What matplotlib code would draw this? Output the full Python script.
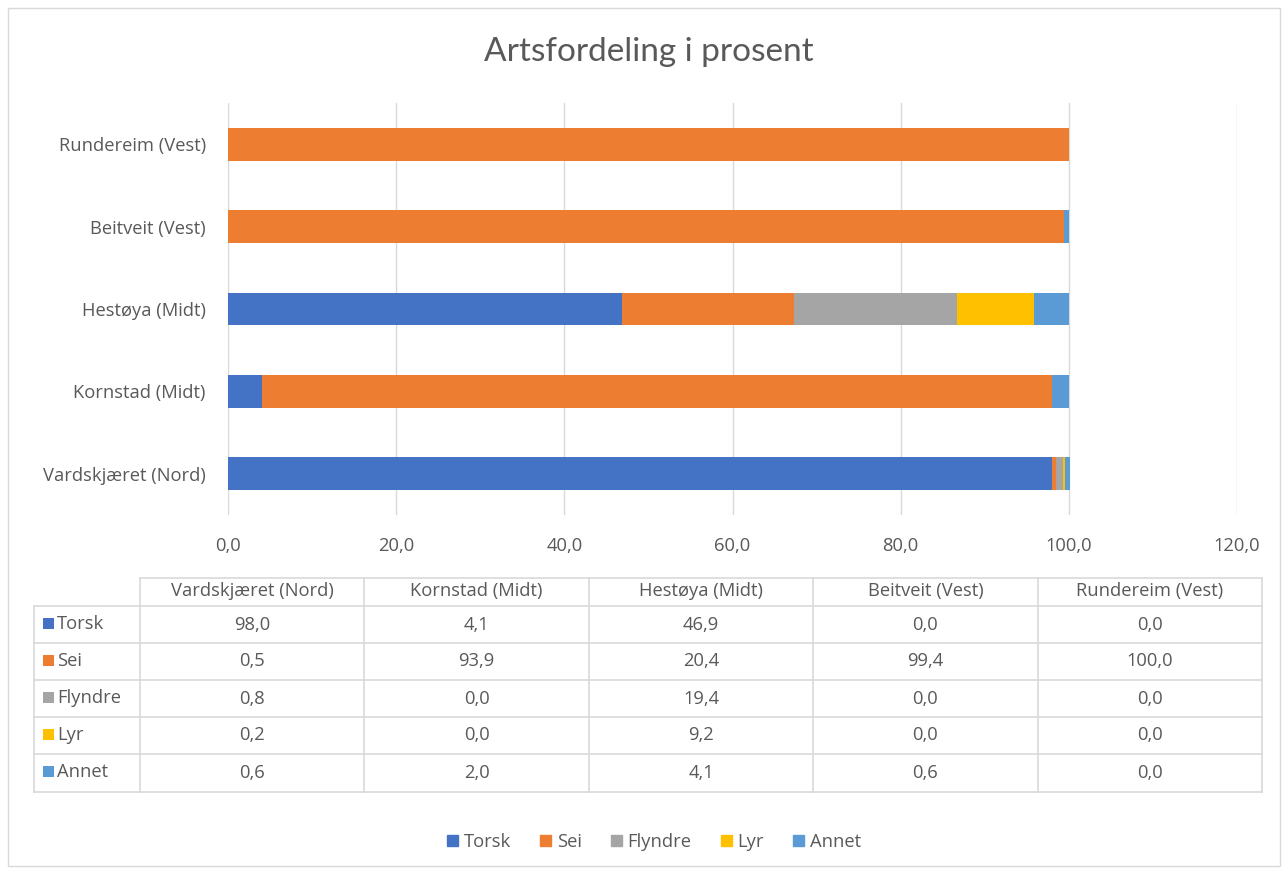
import matplotlib
matplotlib.use("Agg")
import matplotlib.pyplot as plt
from matplotlib.patches import Rectangle
from matplotlib.lines import Line2D

sites = ["Vardskjæret (Nord)", "Kornstad (Midt)", "Hestøya (Midt)", "Beitveit (Vest)", "Rundereim (Vest)"]
species = ["Torsk", "Sei", "Flyndre", "Lyr", "Annet"]
torsk = [98.0, 4.1, 46.9, 0.0, 0.0]
sei = [0.5, 93.9, 20.4, 99.4, 100.0]
flyndre = [0.8, 0.0, 19.4, 0.0, 0.0]
lyr = [0.2, 0.0, 9.2, 0.0, 0.0]
annet = [0.6, 2.0, 4.1, 0.6, 0.0]
xticks = [0, 20, 40, 60, 80, 100, 120]
colors = ["#4472C4", "#ED7D31", "#A5A5A5", "#FFC000", "#5B9BD5"]
series = [torsk, sei, flyndre, lyr, annet]

W, H = 1288, 872
FONT = ["Open Sans", "DejaVu Sans"]
TXT = "#595959"
GRID = "#d9d9d9"
FS = 13.2
plt.rcParams['font.family'] = FONT

fig = plt.figure(figsize=(W / 100, H / 100), dpi=100)

def fx(px):
    return px / W

def fy(py):
    return 1 - py / H

# outer frame
fig.patches.append(Rectangle((fx(8), fy(866)), fx(1280 - 8), (866 - 8) / H,
                             transform=fig.transFigure, fill=False, edgecolor="#d9d9d9", lw=1))

fig.text(fx(649), fy(52), "Artsfordeling i prosent", ha="center", va="center",
         fontsize=24, color=TXT, family=["Lato", "DejaVu Sans"])

# bar axes
x0, x1, y0, y1 = 228, 1237, 103, 515
ax = fig.add_axes([fx(x0), fy(y1), fx(x1 - x0), (y1 - y0) / H])
left = [0.0] * len(sites)
ypos = list(range(len(sites)))
for vals, c, name in zip(series, colors, species):
    ax.barh(ypos, vals, left=left, height=0.4, color=c, label=name, zorder=3)
    left = [l + v for l, v in zip(left, vals)]
ax.set_xlim(0, 120)
ax.set_ylim(-0.5, len(sites) - 0.5)
ax.set_xticks(xticks)
ax.set_xticklabels([f"{t:.1f}".replace(".", ",") for t in xticks])
ax.set_yticks(ypos)
ax.set_yticklabels(sites)
ax.tick_params(length=0, labelsize=FS, colors=TXT)
ax.tick_params(axis="x", pad=16)
ax.tick_params(axis="y", pad=16)
for s in ax.spines.values():
    s.set_visible(False)
ax.grid(axis="x", color=GRID, lw=1, zorder=0)
ax.set_facecolor("none")

# data table
tl, tc0, tr = 34, 140, 1262
ncol = len(sites)
colw = (tr - tc0) / ncol
ty = [578, 606, 643, 680, 717, 754, 792]

def hline(y, xa, xb):
    fig.lines.append(Line2D([fx(xa), fx(xb)], [fy(y), fy(y)], transform=fig.transFigure, color=GRID, lw=1.2))

def vline(x, ya, yb):
    fig.lines.append(Line2D([fx(x), fx(x)], [fy(ya), fy(yb)], transform=fig.transFigure, color=GRID, lw=1.2))

hline(ty[0], tc0, tr)
for y in ty[1:]:
    hline(y, tl, tr)
vline(tl, ty[1], ty[-1])
for i in range(ncol + 1):
    vline(tc0 + i * colw, ty[0], ty[-1])

for i, s in enumerate(sites):
    fig.text(fx(tc0 + (i + 0.5) * colw), fy((ty[0] + ty[1]) / 2 - 1), s, ha="center", va="center",
             fontsize=FS, color=TXT)

for r, (name, vals, c) in enumerate(zip(species, series, colors)):
    top = ty[r + 1]
    yc = (ty[r + 1] + ty[r + 2]) / 2
    base = top + 23
    fig.patches.append(Rectangle((fx(43), fy(base)), fx(11), 11 / H, transform=fig.transFigure,
                                 color=c, lw=0))
    fig.text(fx(57), fy(base), name, ha="left", va="baseline", fontsize=FS, color=TXT)
    for i, v in enumerate(vals):
        fig.text(fx(tc0 + (i + 0.5) * colw), fy(yc), f"{v:.1f}".replace(".", ","),
                 ha="center", va="center", fontsize=FS, color=TXT)

# legend
handles = [Rectangle((0, 0), 1, 1, color=c) for c in colors]
fig.legend(handles, species, loc="center", bbox_to_anchor=(fx(654), fy(842)), ncol=5,
           frameon=False, fontsize=FS, labelcolor=TXT, handlelength=0.6, handleheight=0.6,
           handletextpad=0.3, columnspacing=1.6)

fig.savefig("out.png", dpi=100, facecolor="white")
